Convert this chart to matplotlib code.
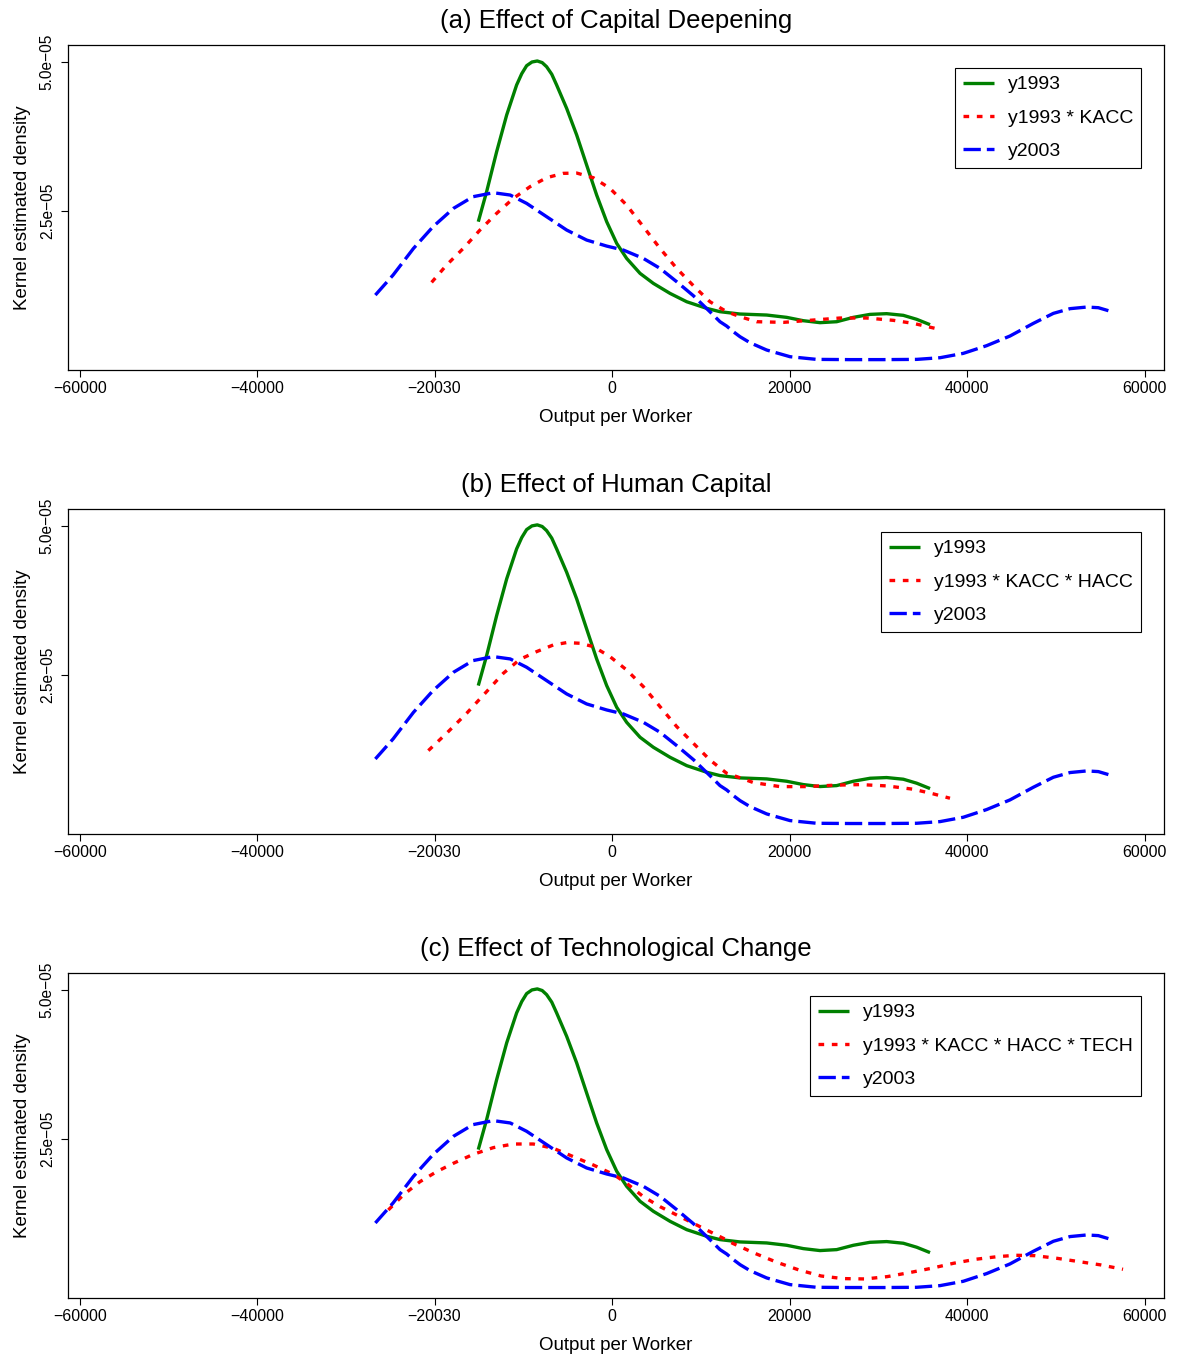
#!/usr/bin/env python3
"""
kernel_density_panels.py
Kernel density of output per worker, 1993 vs 2003, with counterfactual
1993 distributions that add capital deepening, human capital and technology.
Saves out.png
"""

import matplotlib.pyplot as plt


plt.rcParams["font.family"] = ["Liberation Sans", "DejaVu Sans"]

OUT_FILE = "out.png"

# densities are stored in units of 1e-05
DENS_UNIT = 1e-05

# ── Data ───────────────────────────────────────────────────────────────────────

Y1993_X = [-15100, -14160, -13030, -11900, -10780, -10200, -9650, -9050, -8450,
           -7900, -7400, -6820, -6270, -5140, -4010, -2890, -1760, -630, 500, 1620,
           3130, 4630, 6510, 8390, 10640, 12140, 14390, 17400, 19650, 21530, 23410,
           25290, 27170, 29050, 30920, 32800, 34310, 35810]
Y1993_D = [2.316, 2.819, 3.490, 4.106, 4.609, 4.800, 4.933, 4.995, 5.012,
           4.985, 4.916, 4.790, 4.609, 4.217, 3.770, 3.267, 2.763, 2.316, 1.952, 1.700,
           1.449, 1.281, 1.113, 0.973, 0.862, 0.806, 0.767, 0.750, 0.711, 0.655, 0.622,
           0.638, 0.711, 0.761, 0.773, 0.745, 0.678, 0.588]

Y2003_X = [-26700, -24700, -22400, -20200, -17900, -15700, -13400, -11500, -9650,
           -7400, -5140, -2890, -630, 1250, 3500, 5380, 7260, 9140, 11000, 12140,
           12890, 13640, 14400, 15520, 17400, 20030, 23030, 26790, 30550, 34300,
           36940, 39560, 42190, 44820, 47450, 49710, 51590, 53470, 54780, 55910]
Y2003_D = [1.085, 1.421, 1.868, 2.232, 2.539, 2.735, 2.802, 2.763, 2.623,
           2.400, 2.176, 2.008, 1.907, 1.840, 1.700, 1.533, 1.309, 1.074, 0.806, 0.638,
           0.565, 0.471, 0.386, 0.286, 0.163, 0.051, 0.006, 0.002, 0.002, 0.006,
           0.034, 0.107, 0.236, 0.398, 0.610, 0.778, 0.857, 0.884, 0.873, 0.823]

KACC_X = [-20360, -18670, -16790, -14910, -13030, -11150, -9270, -7400, -5520,
          -4010, -2140, -260, 1620, 3500, 5380, 7260, 9140, 11010, 12890, 14400,
          16270, 19280, 22660, 25660, 28670, 31680, 33930, 36370]
KACC_D = [1.298, 1.589, 1.868, 2.176, 2.456, 2.707, 2.903, 3.054, 3.127,
          3.132, 3.054, 2.875, 2.595, 2.232, 1.868, 1.533, 1.242, 0.973, 0.806, 0.722,
          0.638, 0.627, 0.666, 0.700, 0.700, 0.661, 0.610, 0.527]

HACC_X = [-20730, -18670, -16410, -14160, -12280, -10400, -8520, -6640, -5140,
          -3640, -2140, -260, 1620, 3500, 5380, 7260, 9140, 11010, 12890, 14020,
          15900, 18900, 21910, 24910, 27920, 30920, 33930, 36180, 38060]
HACC_D = [1.225, 1.516, 1.851, 2.215, 2.522, 2.757, 2.886, 2.998, 3.037,
          3.026, 2.970, 2.802, 2.578, 2.299, 1.963, 1.628, 1.348, 1.068, 0.845, 0.789,
          0.689, 0.621, 0.621, 0.644, 0.655, 0.633, 0.577, 0.499, 0.426]

TECH_X = [-25240, -23550, -21670, -19790, -17910, -15660, -13410, -11150, -8900,
          -6640, -4390, -2140, 120, 1620, 3500, 5380, 7260, 9140, 11010, 12890,
          13560, 16050, 18540, 21030, 23520, 26010, 28500, 30990, 33480, 35970,
          38460, 40950, 43450, 45520, 47600, 50090, 52580, 55070, 57560]
TECH_D = [1.303, 1.555, 1.778, 1.946, 2.086, 2.237, 2.349, 2.410, 2.410,
          2.338, 2.198, 2.058, 1.901, 1.750, 1.527, 1.359, 1.219, 1.079, 0.939, 0.800,
          0.744, 0.577, 0.426, 0.297, 0.196, 0.152, 0.146, 0.185, 0.252, 0.325,
          0.409, 0.476, 0.521, 0.543, 0.537, 0.493, 0.437, 0.381, 0.308]

PANELS = [
    ("(a) Effect of Capital Deepening",    "y1993 * KACC",               KACC_X, KACC_D),
    ("(b) Effect of Human Capital",        "y1993 * KACC * HACC",        HACC_X, HACC_D),
    ("(c) Effect of Technological Change", "y1993 * KACC * HACC * TECH", TECH_X, TECH_D),
]

X_TICKS       = [-60000, -40000, -20030, 0, 20000, 40000, 60000]
X_TICK_LABELS = ["\u221260000", "\u221240000", "\u221220030", "0", "20000", "40000", "60000"]
Y_TICKS       = [2.5e-05, 5.0e-05]
Y_TICK_LABELS = ["2.5e\u221205", "5.0e\u221205"]

X_LIM = (-61340, 62175)
Y_LIM = (-1.73e-06, 5.28e-05)

GREEN = "#008000"
RED   = "#FF0000"
BLUE  = "#0000FF"
LW    = 2.4

# axes boxes in figure fractions (left, bottom, width, height)
AX_LEFT, AX_WIDTH, AX_HEIGHT = 0.0577, 0.9304, 0.2397
AX_BOTTOMS = [0.7271, 0.3850, 0.0428]


# ── Helpers ────────────────────────────────────────────────────────────────────

def scaled(vals):
    return [v * DENS_UNIT for v in vals]


def style_axes(ax):
    ax.set_xlim(*X_LIM)
    ax.set_ylim(*Y_LIM)
    ax.set_xticks(X_TICKS)
    ax.set_xticklabels(X_TICK_LABELS, fontsize=11.5)
    ax.set_yticks(Y_TICKS)
    ax.set_yticklabels(Y_TICK_LABELS, fontsize=11.2, rotation=90, va="center")
    ax.tick_params(axis="x", direction="out", length=5, width=0.8, pad=3)
    ax.tick_params(axis="y", direction="out", length=5, width=0.8, pad=4.5)
    for sp in ax.spines.values():
        sp.set_linewidth(0.9)
        sp.set_color("black")
    ax.set_xlabel("Output per Worker", fontsize=13.5)
    ax.set_ylabel("Kernel estimated density", fontsize=13.5)
    ax.xaxis.set_label_coords(0.5, -0.119)
    ax.yaxis.set_label_coords(-0.034, 0.5)


def draw_panel(ax, title, label, cx, cd):
    ax.plot(Y1993_X, scaled(Y1993_D), color=GREEN, lw=LW, solid_capstyle="butt",
            solid_joinstyle="round", label="y1993")
    ax.plot(cx, scaled(cd), color=RED, lw=LW, linestyle=(0, (1.7, 2.3)),
            dash_capstyle="butt", label=label)
    ax.plot(Y2003_X, scaled(Y2003_D), color=BLUE, lw=LW, linestyle=(0, (5.2, 1.8)),
            dash_capstyle="butt", label="y2003")
    ax.set_title(title, fontsize=18.5, pad=12)
    style_axes(ax)
    leg = ax.legend(loc="upper right", bbox_to_anchor=(0.979, 0.929), fontsize=14,
                    frameon=True, fancybox=False, framealpha=1, edgecolor="black",
                    borderaxespad=0, borderpad=0.4, labelspacing=0.81,
                    handlelength=1.6, handletextpad=0.72)
    leg.get_frame().set_linewidth(0.8)


# ── Main ───────────────────────────────────────────────────────────────────────

def main():
    fig = plt.figure(figsize=(11.78, 13.56), dpi=100)
    for bottom, (title, label, cx, cd) in zip(AX_BOTTOMS, PANELS):
        ax = fig.add_axes([AX_LEFT, bottom, AX_WIDTH, AX_HEIGHT])
        draw_panel(ax, title, label, cx, cd)
    fig.savefig(OUT_FILE, dpi=100)
    plt.close(fig)


if __name__ == "__main__":
    main()
